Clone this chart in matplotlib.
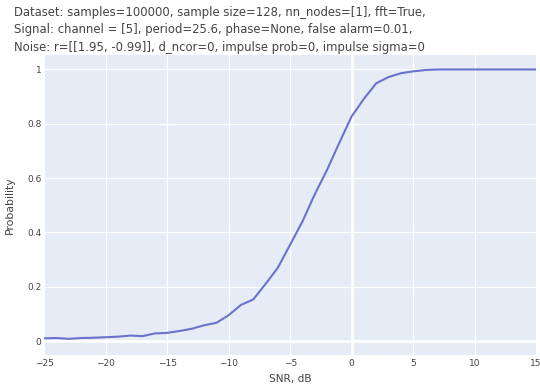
import matplotlib
matplotlib.use("Agg")
import matplotlib.pyplot as plt

# SNR grid and detection probability
snr_db = list(range(-25, 16))
probability = [0.010, 0.011, 0.008, 0.011, 0.012, 0.014, 0.016, 0.020, 0.018, 0.028,
               0.030, 0.037, 0.045, 0.058, 0.067, 0.095, 0.133, 0.153, 0.210, 0.270,
               0.355, 0.440, 0.540, 0.630, 0.730, 0.827, 0.892, 0.949, 0.972, 0.986,
               0.993, 0.998, 1.0, 1.0, 1.0, 1.0, 1.0, 1.0, 1.0, 1.0, 1.0]

x_ticks = [-25, -20, -15, -10, -5, 0, 5, 10, 15]
y_ticks = [0, 0.2, 0.4, 0.6, 0.8, 1]
y_tick_labels = ["0", "0.2", "0.4", "0.6", "0.8", "1"]

title_lines = [
    "Dataset: samples=100000, sample size=128, nn_nodes=[1], fft=True,",
    "Signal: channel = [5], period=25.6, phase=None, false alarm=0.01,",
    "Noise: r=[[1.95, -0.99]], d_ncor=0, impulse prob=0, impulse sigma=0",
]

plt.rcParams['font.family'] = ['DejaVu Sans']
text_col = '#444444'

fig = plt.figure(figsize=(5.4, 3.87), dpi=100)
ax = fig.add_axes([0.082, 0.0827, 0.9106, 0.7753])
ax.set_facecolor('#e5ecf6')

# plotly-style grid
for t in x_ticks:
    ax.axvline(t, color='white', lw=2.0 if t == 0 else 0.9, zorder=1)
for t in y_ticks:
    ax.axhline(t, color='white', lw=2.0 if t == 0 else 0.9, zorder=1)

ax.plot(snr_db, probability, color='#6a73cc', lw=1.5, zorder=3)

ax.set_xlim(-25, 15)
ax.set_ylim(-0.0515, 1.0535)
ax.set_xticks(x_ticks)
ax.set_yticks(y_ticks)
ax.set_yticklabels(y_tick_labels)
ax.tick_params(axis='both', length=0, labelsize=6.5, labelcolor=text_col)
ax.tick_params(axis='x', pad=3)
ax.tick_params(axis='y', pad=2)
for s in ax.spines.values():
    s.set_visible(False)

ax.set_xlabel("SNR, dB", fontsize=7.6, color=text_col, labelpad=4)
ax.set_ylabel("Probability", fontsize=7.8, color=text_col, labelpad=9)

fig.text(0.026, 0.985, "\n".join(title_lines), fontsize=8.4, color=text_col,
         ha='left', va='top', linespacing=1.45)

fig.savefig("out.png", dpi=100)
